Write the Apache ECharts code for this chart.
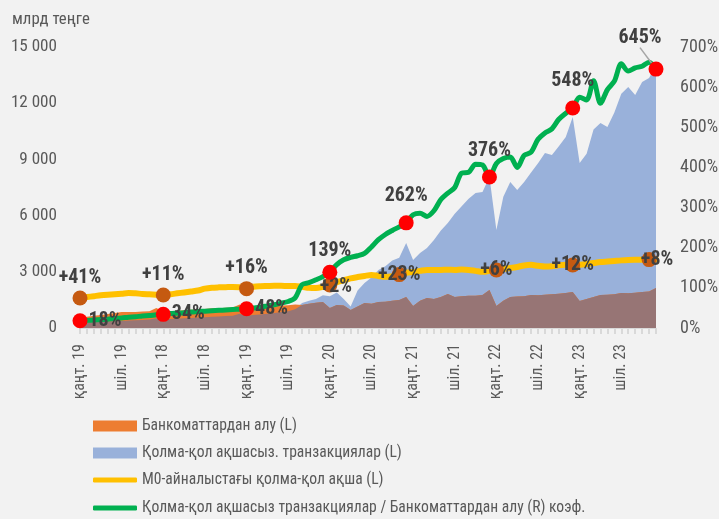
<!DOCTYPE html>
<html>
<head>
<meta charset="utf-8">
<script src="https://cdn.jsdelivr.net/npm/echarts@6/dist/echarts.min.js"></script>
<style>
html, body { margin: 0; padding: 0; background: #f2f2f2; }
#chart { width: 719px; height: 519px; }
</style>
</head>
<body>
<div id="chart"></div>
<script>
// months 2017-01 .. 2023-12
const months = []
for (let y = 2017; y <= 2023; y++) {
  for (let m = 1; m <= 12; m++) months.push(y + '-' + (m < 10 ? '0' + m : m))
}

// labels every 6 months, as printed on the original
const tickLabels = ['қаңт. 19', 'шіл. 19', 'қаңт. 18', 'шіл. 18', 'қаңт. 19', 'шіл. 19', 'қаңт. 20',
  'шіл. 20', 'қаңт. 21', 'шіл. 21', 'қаңт. 22', 'шіл. 22', 'қаңт. 23', 'шіл. 23']

// Банкоматтардан алу, млрд теңге
const atm = [
  530, 600, 650, 700, 750, 800, 850, 860, 860, 880, 900, 1070,
  880, 900, 920, 950, 980, 1000, 1020, 1050, 1060, 1080, 1100, 1250,
  1050, 1080, 1120, 1150, 1180, 1200, 1220, 1250, 1230, 1300, 1350, 1390,
  1070, 1230, 1200, 960, 1150, 1330, 1300, 1390, 1400, 1450, 1500, 1650,
  1170, 1450, 1600, 1550, 1650, 1810, 1650, 1700, 1720, 1720, 1760, 2030,
  1170, 1450, 1650, 1680, 1700, 1760, 1750, 1780, 1800, 1830, 1870, 1920,
  1440, 1550, 1650, 1760, 1780, 1800, 1870, 1850, 1880, 1920, 1950, 2130
]

// Қолма-қол ақшасыз транзакциялар, млрд теңге
const cashless = [
  300, 310, 320, 340, 350, 370, 380, 400, 410, 430, 450, 520,
  460, 480, 500, 520, 540, 560, 580, 600, 620, 640, 660, 760,
  660, 690, 720, 760, 800, 850, 900, 1000, 1330, 1450, 1550, 1750,
  1700, 1900, 1550, 1150, 2000, 2400, 2700, 3100, 3300, 3600, 3750, 4540,
  3630, 4000, 4270, 4700, 5200, 5600, 6100, 6500, 6900, 7200, 7260, 8060,
  5230, 7000, 7800, 7370, 7800, 8300, 8800, 9340, 9240, 9700, 10200, 11270,
  8810, 9300, 10600, 10940, 10730, 11500, 12500, 12870, 12440, 13130, 13350, 14000
]

// М0, млрд теңге
const m0 = [
  1600, 1650, 1700, 1750, 1780, 1800, 1830, 1870, 1850, 1820, 1800, 1780,
  1760, 1800, 1850, 1900, 1950, 2000, 2100, 2150, 2170, 2180, 2190, 2170,
  2100, 2200, 2230, 2240, 2250, 2250, 2240, 2240, 2200, 2150, 2140, 2200,
  2300, 2450, 2550, 2650, 2720, 2780, 2830, 2780, 2730, 2760, 2850, 2950,
  2990, 3050, 3100, 3100, 3100, 3110, 3100, 3120, 3100, 3050, 3000, 3050,
  3100, 3150, 3200, 3260, 3340, 3370, 3320, 3280, 3300, 3350, 3370, 3360,
  3380, 3420, 3470, 3520, 3550, 3580, 3610, 3630, 3640, 3640, 3650, 3660
]

// коэф., %
const ratio = [
  18, 19, 20, 21, 22, 24, 25, 27, 28, 30, 31, 33,
  34, 36, 37, 38, 40, 41, 42, 43, 44, 45, 46, 47,
  48, 50, 52, 55, 58, 62, 66, 75, 108, 113, 120, 128,
  139, 158, 170, 176, 180, 186, 202, 220, 233, 243, 252, 262,
  282, 286, 278, 292, 320, 336, 350, 386, 388, 408, 406, 376,
  410, 422, 426, 400, 430, 438, 470, 486, 496, 520, 535, 548,
  575, 568, 616, 560, 594, 615, 658, 640, 648, 652, 662, 645
]

// marked points
const ratioMarkIdx = [0, 12, 24, 36, 47, 59, 71, 83]
const ratioMarkText = ['18%', '34%', '48%', '139%', '262%', '376%', '548%', '645%']
const m0MarkIdx = [0, 12, 24, 36, 46, 60, 71, 82]
const m0MarkText = ['+41%', '+11%', '+16%', '+2%', '+23%', '+6%', '+12%', '+8%']

const names = [
  'Банкоматтардан алу (L)',
  'Қолма-қол ақшасыз. транзакциялар (L)',
  'М0-айналыстағы қолма-қол ақша (L)',
  'Қолма-қол ақшасыз транзакциялар / Банкоматтардан алу (R) коэф.'
]

const FONT = "'Roboto Condensed', 'Liberation Sans Narrow', 'DejaVu Sans Condensed', sans-serif"
const ORANGE = '#ED7D31'
const BLUE = '#99B1DA'
const BROWN = '#977575'
const YELLOW = '#FFC000'
const GREEN = '#00B050'

// the original uses a narrow font: shrink size until the text is as wide as there
const measure = document.createElement('canvas').getContext('2d')
function fit(text, target, size, weight) {
  measure.font = (weight || 'normal') + ' ' + size + 'px ' + FONT
  const w = measure.measureText(text).width
  return Math.min(size, Math.round(size * target / w * 10) / 10)
}
const axisSize = fit('15 000', 46, 19)
const pctSize = fit('700%', 38, 19)
const xSize = fit('қаңт. 19', 56, 16)
const legendSize = fit(names[3], 445, 17)
const titleSize = fit('млрд теңге', 78, 18)
const markSize = fit('139%', 43, 22, 'bold')

// where the two areas overlap
const overlap = atm.map((v, i) => Math.min(v, cashless[i]))

const labelFont = { fontFamily: FONT, fontSize: markSize, fontWeight: 'bold', color: '#404040' }

const m0Pos = [
  { position: 'top', distance: 3 }, { position: 'top', distance: 3 }, { position: 'top', distance: 3 },
  { position: 'inside', offset: [6, 2] }, { position: 'inside' }, { position: 'inside' },
  { position: 'inside' }, { position: 'inside', offset: [8, 0] }
]
const ratioPos = [
  { position: 'right', distance: 1 }, { position: 'right', distance: 1 }, { position: 'right', distance: 1 },
  { position: 'top', distance: 4, offset: [-12, 0] }, { position: 'top', distance: 9 },
  { position: 'top', distance: 9 }, { position: 'top', distance: 10 }, { position: 'top', distance: 12 }
]

function thousands(v) {
  return String(v).replace(/\B(?=(\d{3})+(?!\d))/g, ' ')
}

function legendItem(name, top, icon, h, color) {
  return {
    data: [{ name: name, icon: icon, itemStyle: { color: color } }],
    left: 93,
    top: top,
    padding: 0,
    itemWidth: 44,
    itemHeight: h,
    itemGap: 5,
    selectedMode: false,
    textStyle: { fontFamily: FONT, fontSize: legendSize, color: '#595959' }
  }
}

const chart = echarts.init(document.getElementById('chart'))
chart.setOption({
  backgroundColor: '#f2f2f2',
  animation: false,
  title: {
    text: 'млрд теңге',
    left: 12,
    top: 11,
    padding: 0,
    textStyle: { fontFamily: FONT, fontSize: titleSize, fontWeight: 'normal', color: '#595959' }
  },
  legend: [
    legendItem(names[0], 418, 'rect', 11, ORANGE),
    legendItem(names[1], 445, 'rect', 11, BLUE),
    legendItem(names[2], 472, 'roundRect', 5, YELLOW),
    legendItem(names[3], 500, 'roundRect', 5, GREEN)
  ],
  grid: { left: 80, right: 63, top: 47, bottom: 191, outerBoundsMode: 'none', containLabel: false },
  xAxis: {
    type: 'category',
    data: months,
    boundaryGap: false,
    axisLine: { lineStyle: { color: '#d9d9d9', width: 1 } },
    axisTick: { show: true, interval: 0, length: 6, lineStyle: { color: '#d9d9d9', width: 2 } },
    axisLabel: {
      interval: 5,
      rotate: 90,
      margin: 16,
      fontFamily: FONT,
      fontSize: xSize,
      color: '#595959',
      formatter: (v, i) => tickLabels[i / 6] || ''
    },
    splitLine: { show: false }
  },
  yAxis: [
    {
      type: 'value',
      min: 0,
      max: 15000,
      interval: 3000,
      splitLine: { show: false },
      axisLine: { show: false },
      axisTick: { show: false },
      axisLabel: { margin: 23, fontFamily: FONT, fontSize: axisSize, color: '#595959', formatter: thousands }
    },
    {
      type: 'value',
      position: 'right',
      min: 0,
      max: 700,
      interval: 100,
      splitLine: { show: false },
      axisLine: { show: false },
      axisTick: { show: false },
      axisLabel: { margin: 24, fontFamily: FONT, fontSize: pctSize, color: '#595959', formatter: '{value}%' }
    }
  ],
  series: [
    {
      name: names[1],
      type: 'line',
      data: cashless,
      symbol: 'none',
      z: 1,
      itemStyle: { color: BLUE },
      lineStyle: { width: 0 },
      areaStyle: { color: BLUE, opacity: 1 }
    },
    {
      name: names[0],
      type: 'line',
      data: atm,
      symbol: 'none',
      z: 2,
      itemStyle: { color: ORANGE },
      lineStyle: { width: 0 },
      areaStyle: { color: ORANGE, opacity: 1 }
    },
    {
      name: 'overlap',
      type: 'line',
      data: overlap,
      symbol: 'none',
      z: 3,
      lineStyle: { width: 0 },
      areaStyle: { color: BROWN, opacity: 1 }
    },
    {
      name: names[2],
      type: 'line',
      data: m0,
      symbol: 'none',
      smooth: 0.3,
      z: 4,
      itemStyle: { color: YELLOW },
      lineStyle: { color: YELLOW, width: 6, cap: 'round' }
    },
    {
      name: names[3],
      type: 'line',
      yAxisIndex: 1,
      data: ratio,
      symbol: 'none',
      smooth: 0.3,
      z: 5,
      itemStyle: { color: GREEN },
      lineStyle: { color: GREEN, width: 5, cap: 'round' }
    },
    {
      name: 'm0marks',
      type: 'scatter',
      yAxisIndex: 0,
      z: 6,
      symbolSize: 15,
      itemStyle: { color: '#C55A11', opacity: 1 },
      data: m0MarkIdx.map((k, j) => ({ value: [k, m0[k]], label: m0Pos[j] })),
      label: Object.assign({ show: true, formatter: p => m0MarkText[p.dataIndex] }, labelFont)
    },
    {
      name: 'ratiomarks',
      type: 'scatter',
      yAxisIndex: 1,
      z: 7,
      symbolSize: 15,
      itemStyle: { color: '#FF0000', opacity: 1 },
      data: ratioMarkIdx.map((k, j) => ({
        value: [k, ratio[k]],
        label: ratioPos[j],
        labelLine: { show: j === 7, lineStyle: { color: '#a6a6a6', width: 1.5 } }
      })),
      label: Object.assign({ show: true, formatter: p => ratioMarkText[p.dataIndex] }, labelFont),
      // last label sits up-left with a short leader line
      labelLayout: p => (p.dataIndex === 7 ? { dx: -16, dy: -2 } : {})
    }
  ]
})
</script>
</body>
</html>
